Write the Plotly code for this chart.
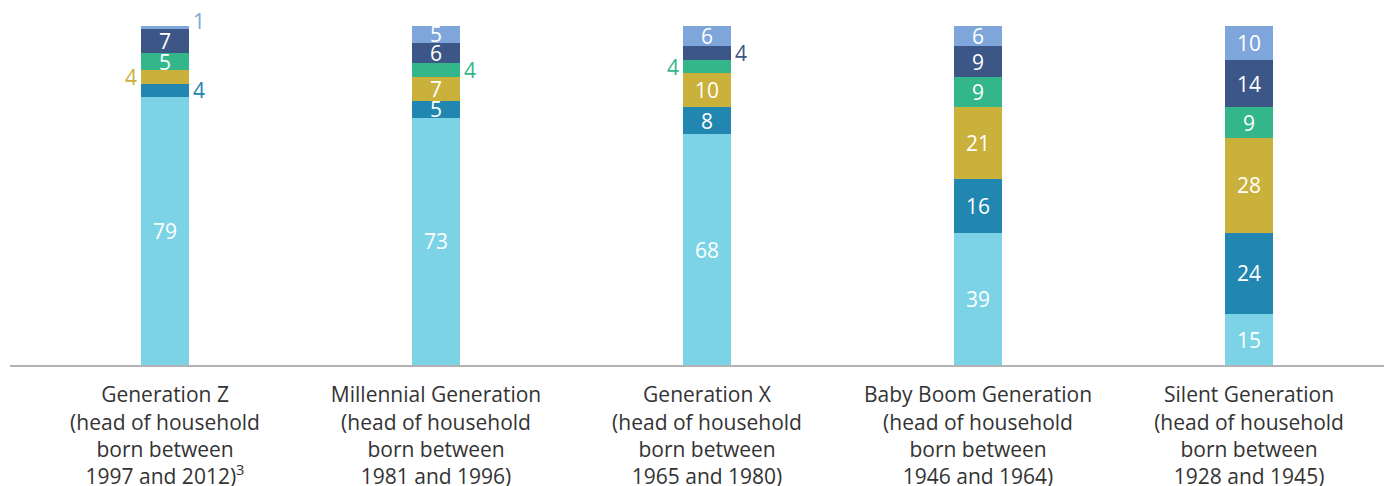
import plotly.graph_objects as go

categories = [
    "Generation Z<br>(head of household<br>born between<br>1997 and 2012)<sup>3</sup>",
    "Millennial Generation<br>(head of household<br>born between<br>1981 and 1996)",
    "Generation X<br>(head of household<br>born between<br>1965 and 1980)",
    "Baby Boom Generation<br>(head of household<br>born between<br>1946 and 1964)",
    "Silent Generation<br>(head of household<br>born between<br>1928 and 1945)",
]
s1 = [79, 73, 68, 39, 15]
s2 = [4, 5, 8, 16, 24]
s3 = [4, 7, 10, 21, 28]
s4 = [5, 4, 4, 9, 9]
s5 = [7, 6, 4, 9, 14]
s6 = [1, 5, 6, 6, 10]
series = [s1, s2, s3, s4, s5, s6]
colors = ["#7dd3e6", "#2186b0", "#cab13b", "#33b78a", "#3c5687", "#7fa6db"]
# side for outside labels of small segments: -1 left, 1 right
outside_side = {(0, 5): 1, (0, 2): -1, (0, 1): 1, (1, 3): 1, (2, 3): -1, (2, 4): 1}

FONT = "Open Sans"
xs = list(range(len(categories)))
fig = go.Figure()
for vals, col in zip(series, colors):
    fig.add_trace(go.Bar(x=xs, y=vals, marker=dict(color=col, line=dict(width=0)),
                         width=0.177, hoverinfo="skip"))

annotations = []
for i in xs:
    base = 0
    for k, vals in enumerate(series):
        v = vals[i]
        mid = base + v / 2
        if (i, k) in outside_side:
            side = outside_side[(i, k)]
            up = 7 if (k == 5 and v == 1) else 0
            annotations.append(dict(x=i, y=mid, text=str(v), showarrow=False,
                                    xshift=side * 34, yshift=up,
                                    font=dict(size=21, color=colors[k], family=FONT)))
        else:
            annotations.append(dict(x=i, y=mid, text=str(v), showarrow=False,
                                    font=dict(size=21, color="white", family=FONT)))
        base += v

fig.update_layout(
    barmode="stack",
    width=1392, height=486,
    margin=dict(l=2, r=0, t=18, b=129),
    paper_bgcolor="white", plot_bgcolor="white",
    showlegend=False,
    annotations=annotations,
    xaxis=dict(range=[-0.572, 4.557], tickvals=xs, ticktext=categories,
               showline=True, linecolor="#b3b3b3", linewidth=2,
               ticks="outside", ticklen=10, tickcolor="rgba(0,0,0,0)",
               showgrid=False, zeroline=False,
               tickfont=dict(size=21, color="#333333", family=FONT)),
    yaxis=dict(range=[0, 100], visible=False, showgrid=False, zeroline=False),
)
fig.write_html("out.html")
